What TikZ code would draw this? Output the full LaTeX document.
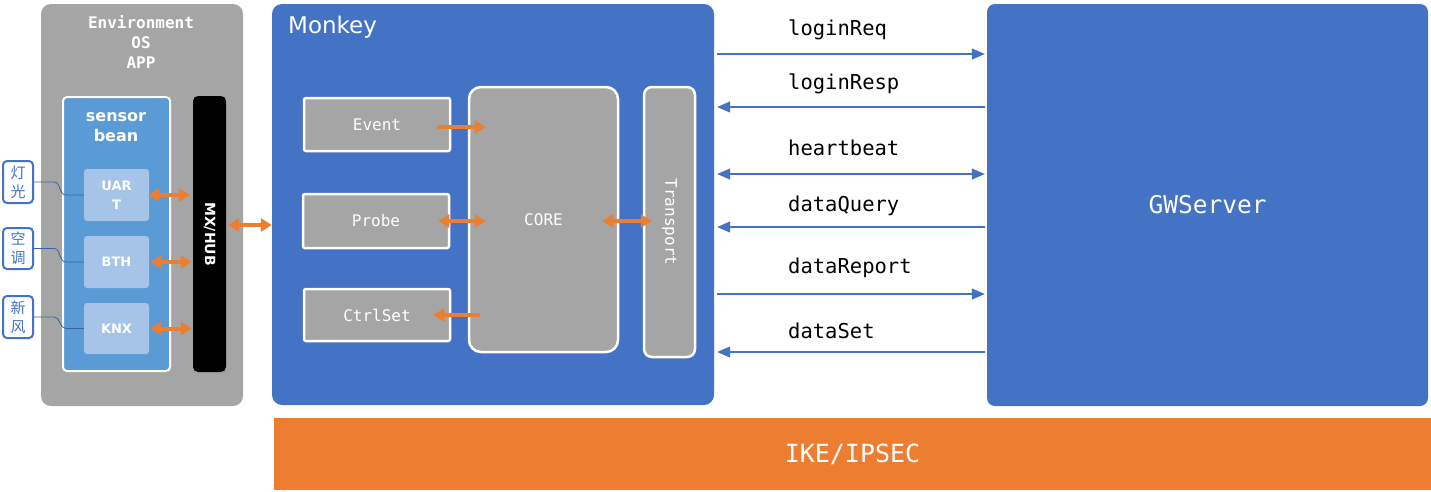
\documentclass[tikz,border=0pt]{standalone}
\usepackage{fontspec}
\setmainfont{DejaVu Sans}
\newfontfamily\monofont{DejaVu Sans Mono}
\newfontfamily\cjk{Noto Sans CJK SC}
\usetikzlibrary{arrows.meta}
\definecolor{boxgray}{HTML}{A5A5A5}
\definecolor{mblue}{HTML}{4472C4}
\definecolor{sblue}{HTML}{5B9BD5}
\definecolor{lblue}{HTML}{A6C3E8}
\definecolor{morange}{HTML}{ED7D31}
\tikzset{
  panel/.style={fill=#1, rounded corners=10pt, inner sep=0pt},
  inbox/.style={fill=boxgray, draw=white, line width=2.5pt, rounded corners=#1,
    inner sep=0pt, text=white, font=\monofont\fontsize{16}{19}\selectfont},
  chip/.style={fill=lblue, rounded corners=3pt, inner sep=0pt, align=center,
    minimum width=65pt, text=white, font=\bfseries\fontsize{13}{19}\selectfont},
  tag/.style={fill=white, draw=mblue, line width=2pt, rounded corners=4pt,
    minimum width=30pt, inner sep=0pt, align=center, text=mblue,
    font=\cjk\fontsize{15}{19}\selectfont},
  wire/.style={draw=mblue!85!black, line width=0.8pt},
  flow/.style={draw=morange, line width=4pt, -{Triangle[length=11pt,width=13pt]}},
  bflow/.style={flow, {Triangle[length=11pt,width=13pt]}-{Triangle[length=11pt,width=13pt]}},
  msg/.style={draw=mblue, line width=1.3pt},
  msglbl/.style={anchor=west, inner sep=0pt, font=\monofont\fontsize{20.5}{24}\selectfont}
}
\begin{document}
\begin{tikzpicture}[x=1pt,y=-1pt]
  \useasboundingbox (0,0) rectangle (1431,491);
  % left side
  \node (env) [panel=boxgray, minimum width=202pt, minimum height=402pt] at (142,205) {};
  \node (envtitle) [align=center, text=white, inner sep=0pt,
    font=\monofont\bfseries\fontsize{16}{20}\selectfont] at (141,42) {Environment\\OS\\APP};
  \node (sensor) [fill=sblue, draw=white, line width=2pt, rounded corners=4pt,
    minimum width=107pt, minimum height=274pt] at (116.5,234) {};
  \node (sensortitle) [align=center, text=white, inner sep=0pt,
    font=\bfseries\fontsize{16}{20}\selectfont] at (116,127) {sensor\\bean};
  \node (uart) [chip, minimum height=52pt] at (116.5,195) {UAR\\T};
  \node (bth) [chip, minimum height=52pt] at (116.5,262) {BTH};
  \node (knx) [chip, minimum height=51pt] at (116.5,328.5) {KNX};
  \node (mx) [fill=black, rounded corners=5pt, minimum width=33pt, minimum height=276pt,
    inner sep=0pt] at (209.5,234) {};
  \node (mxlbl) [rotate=-90, text=white, inner sep=0pt,
    font=\bfseries\fontsize{14}{16}\selectfont] at (mx) {MX/HUB};
  \node (lamp) [tag, minimum height=42pt] at (18,182) {灯\\光};
  \node (ac) [tag, minimum height=41pt] at (18,248.5) {空\\调};
  \node (fresh) [tag, minimum height=42pt] at (18,317) {新\\风};
  \draw[wire] (lamp.east) -- ++(20,0) to[out=0,in=180] ([xshift=-18pt]uart.west) -- (uart.west);
  \draw[wire] (ac.east) -- ++(20,0) to[out=0,in=180] ([xshift=-18pt]bth.west) -- (bth.west);
  \draw[wire] (fresh.east) -- ++(20,0) to[out=0,in=180] ([xshift=-18pt]knx.west) -- (knx.west);
  \draw[bflow] ([xshift=-1pt]uart.east) -- ([xshift=-3pt]uart.east -| mx.west);
  \draw[bflow] ([xshift=1pt]bth.east) -- ([xshift=-1pt]bth.east -| mx.west);
  \draw[bflow] ([xshift=1pt]knx.east) -- ([xshift=-1pt]knx.east -| mx.west);
  % Monkey
  \node (monkey) [panel=mblue, minimum width=442pt, minimum height=401pt] at (493,204.5) {};
  \node (monkeytitle) [anchor=west, text=white, inner sep=0pt,
    font=\fontsize{23}{26}\selectfont] at (288,27) {Monkey};
  \draw[bflow] ([yshift=9pt,xshift=2pt]mx.east) -- ([yshift=9pt]mx.east -| monkey.west);
  \node (event) [inbox=2pt, minimum width=146pt, minimum height=53pt] at (377,124.5) {Event};
  \node (probe) [inbox=2pt, minimum width=146pt, minimum height=54pt] at (376,221) {Probe};
  \node (ctrl) [inbox=2pt, minimum width=146pt, minimum height=52pt] at (377,315) {CtrlSet};
  \node (core) [inbox=12pt, minimum width=149pt, minimum height=265pt] at (543.5,219.5) {CORE};
  \node (transport) [inbox=8pt, minimum width=51pt, minimum height=270pt] at (669.5,222) {};
  \node (translbl) [rotate=-90, text=white, inner sep=0pt,
    font=\monofont\fontsize{16}{19}\selectfont] at (transport) {Transport};
  \draw[flow] ([xshift=-14pt,yshift=-2.5pt]event.east) -- ([xshift=18pt,yshift=-2.5pt]event.east -| core.west);
  \draw[bflow] ([xshift=-12pt]probe.east) -- ([xshift=18pt]probe.east -| core.west);
  \draw[flow] ([xshift=12pt]ctrl.east -| core.west) -- ([xshift=-18pt]ctrl.east);
  \draw[bflow] ([xshift=-17pt,yshift=-1.5pt]core.east) -- ([xshift=9pt,yshift=-1.5pt]core.east -| transport.west);
  % GWServer
  \node (gw) [panel=mblue, rounded corners=8pt, minimum width=441pt, minimum height=402pt,
    text=white, font=\monofont\fontsize{24.5}{28}\selectfont] at (1207.5,205) {GWServer};
  % messages
  \foreach \y/\ly/\txt/\tips in {54/30/loginReq/-{Triangle[length=13pt,width=11pt]},
      107/84/loginResp/{Triangle[length=13pt,width=11pt]}-,
      174/148/heartbeat/{Triangle[length=13pt,width=11pt]}-{Triangle[length=13pt,width=11pt]},
      227/206/dataQuery/{Triangle[length=13pt,width=11pt]}-,
      294/268/dataReport/-{Triangle[length=13pt,width=11pt]},
      352/331/dataSet/{Triangle[length=13pt,width=11pt]}-}{
    \draw[msg, \tips] ([xshift=3pt]monkey.east |- 0,\y) -- ([xshift=-2pt]gw.west |- 0,\y);
    \node (m\txt) [msglbl] at (788,\ly) {\txt};
  }
  % bottom bar
  \node (ike) [fill=morange, minimum width=1157pt, minimum height=72pt, inner sep=0pt,
    text=white, font=\monofont\fontsize{25}{28}\selectfont] at (852.5,454) {IKE/IPSEC};
\end{tikzpicture}
\end{document}
